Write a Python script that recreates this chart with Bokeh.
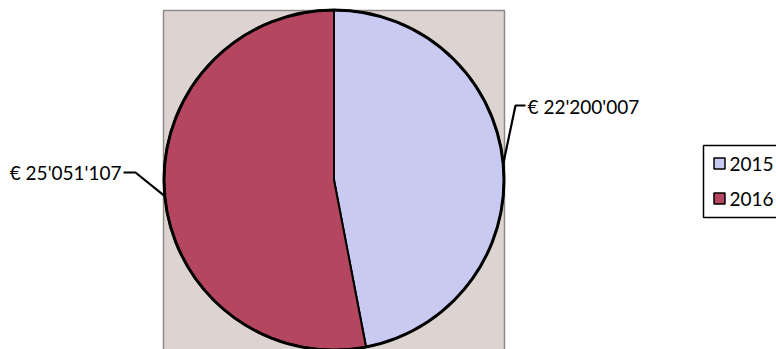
import numpy as np
from bokeh.plotting import figure
from bokeh.models import Range1d
from bokeh.core.properties import value
from bokeh.embed import file_html
from bokeh.resources import INLINE

# ---- data ----
years = ["2015", "2016"]
amounts = [22200007, 25051107]
labels = ["€ 22'200'007", "€ 25'051'107"]
colors = ["#C9CAF2", "#B4475F"]

W, H = 776, 349
p = figure(width=W, height=H, output_backend="svg", toolbar_location=None,
           x_range=Range1d(0, W), y_range=Range1d(0, H), min_border=0)
p.axis.visible = False
p.grid.visible = False
p.outline_line_color = None
p.background_fill_color = "white"
p.border_fill_color = "white"

def Y(y):  # screen y -> data y
    return H - y

# plot-area background
cx, cy, r = 333.5, 179.5, 170
p.quad(left=[163], right=[504], bottom=[Y(352)], top=[Y(10)],
       fill_color="#DDD4D1", line_color="#8E8886", line_width=1.5)

# wedges: start at 12 o'clock, clockwise
vals = np.array(amounts, dtype=float)
frac = vals / vals.sum()
cum = np.concatenate([[0], np.cumsum(frac)])
starts = np.pi / 2 - 2 * np.pi * cum[1:]
ends = np.pi / 2 - 2 * np.pi * cum[:-1]
p.wedge(x=[cx] * len(vals), y=[Y(cy)] * len(vals), radius=r,
        start_angle=list(starts), end_angle=list(ends),
        fill_color=colors, line_color="black", line_width=2)
p.circle(x=[cx], y=[Y(cy)], radius=r, fill_color=None, line_color="black",
         line_width=3)

FS = "19px"
# labels with leader lines, anchored at slice mid-angles
mids = np.pi / 2 - 2 * np.pi * (cum[:-1] + frac / 2)
ex = cx + r * np.cos(mids)
ey = Y(cy) + r * np.sin(mids)
# 2015 (right)
p.line(x=[ex[0], 515, 525], y=[ey[0], Y(105), Y(105)], line_color="black", line_width=2.2)
p.text(x=[527], y=[Y(106)], text=[labels[0]], text_font=value("Lato"),
       text_font_size=FS, text_align="left", text_baseline="middle",
       text_color="black")
# 2016 (left)
p.line(x=[ex[1], 135, 123], y=[ey[1], Y(172), Y(172)], line_color="black", line_width=2.2)
p.text(x=[121], y=[Y(172)], text=[labels[1]], text_font=value("Lato"),
       text_font_size=FS, text_align="right", text_baseline="middle",
       text_color="black")

# legend
p.quad(left=[703], right=[790], bottom=[Y(217)], top=[Y(145)],
       fill_color="white", line_color="black", line_width=1.5)
ly = [163, 198]
p.scatter(x=[719, 719], y=[Y(v) for v in ly], marker="square", size=11,
          fill_color=colors, line_color="black", line_width=1.5)
p.text(x=[729, 729], y=[Y(v) for v in ly], text=years, text_font=value("Lato"),
       text_font_size=FS, text_align="left", text_baseline="middle",
       text_color="black")

open("out.html", "w").write(file_html(p, INLINE))
